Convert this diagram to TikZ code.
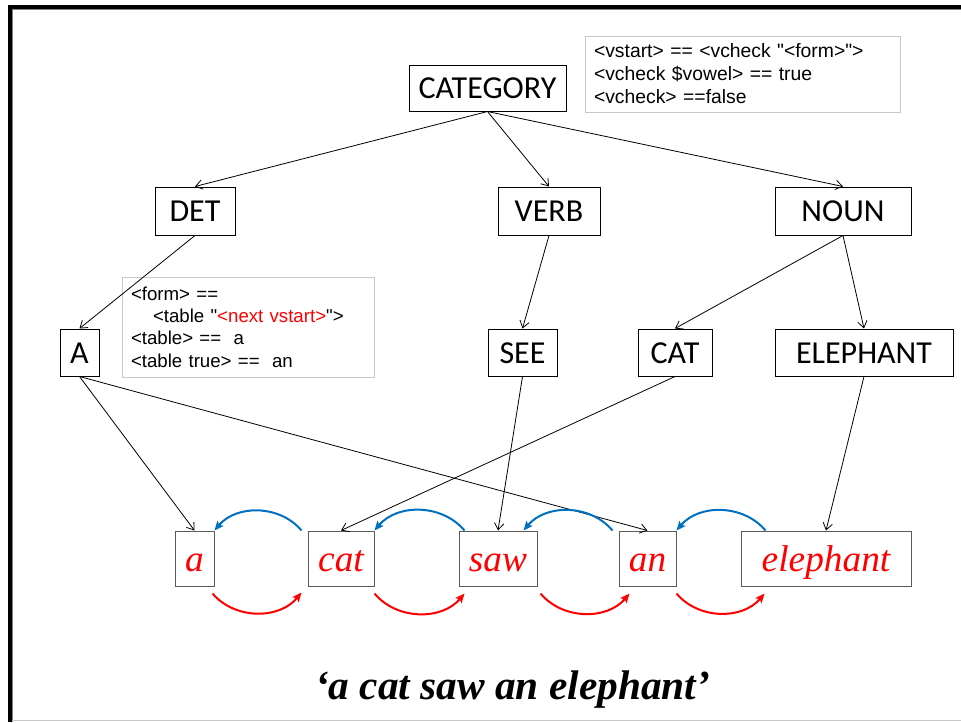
\documentclass[tikz,border=0pt]{standalone}
\usepackage{fontspec}
\setmainfont{Liberation Serif}
\newfontfamily\calibfont{Carlito}
\newfontfamily\arialfont{Liberation Sans}
\usetikzlibrary{arrows.meta,calc}
\definecolor{linkblue}{HTML}{0070C0}
\definecolor{linkred}{HTML}{FF0000}
\definecolor{notegray}{HTML}{C8C8C8}
\definecolor{wordgray}{HTML}{5A5A5A}

\begin{document}
\begin{tikzpicture}[x=0.75pt,y=-0.75pt,
  catbox/.style={draw=black, line width=0.75pt, inner sep=0pt,
    font=\calibfont\fontsize{24}{28}\selectfont,
    text height=16pt, text depth=0pt},
  wordbox/.style={draw=wordgray, line width=0.75pt, inner sep=0pt,
    minimum height=41.25pt, text=linkred,
    font=\fontsize{28}{32}\selectfont\itshape,
    text height=20pt, text depth=0pt},
  notebox/.style={draw=notegray, line width=0.75pt, inner xsep=6.75pt,
    inner ysep=0pt, align=left},
  tree/.style={line width=0.6pt, -{Straight Barb[length=5pt,width=7pt]}},
  nextlink/.style={linkred, line width=1.5pt, -{Stealth[length=7pt,width=6pt,inset=1.5pt]}},
  backlink/.style={linkblue, line width=1.5pt, -{Stealth[length=7pt,width=6pt,inset=1.5pt]}}
]
\useasboundingbox (0,0) rectangle (961,722);

% slide frame
\fill[black] (8,5) rectangle (961,9);
\fill[black] (8,5) rectangle (12,722);
\draw[gray, line width=0.75pt] (12,9.5) -- (961,9.5);
\draw[gray, line width=0.75pt] (12.5,9.5) -- (12.5,722);
\draw[notegray, line width=0.75pt] (12,720.5) -- (961,720.5);

% category tree
\node[catbox, minimum width=117.75pt, minimum height=34.5pt] (CATEGORY) at (487.5,88) {CATEGORY};
\node[catbox, minimum width=60pt, minimum height=36pt] (DET) at (195,211) {DET};
\node[catbox, minimum width=76.5pt, minimum height=36pt] (VERB) at (549,211) {VERB};
\node[catbox, minimum width=102pt, minimum height=36pt] (NOUN) at (843,211) {NOUN};
\node[catbox, minimum width=29.25pt, minimum height=35.25pt] (A) at (79.5,352.5) {A};
\node[catbox, minimum width=51.75pt, minimum height=35.25pt] (SEE) at (522.5,352.5) {SEE};
\node[catbox, minimum width=55.5pt, minimum height=35.25pt] (CAT) at (675,352.5) {CAT};
\node[catbox, minimum width=133.5pt, minimum height=35.25pt] (ELEPHANT) at (864,352.5) {ELEPHANT};

% rule notes
\node[notebox, minimum width=236.25pt, minimum height=57pt, text width=222.75pt,
  font=\arialfont\fontsize{14.5}{17.3}\selectfont] (vnote) at (742.5,74)
  {<vstart> == <vcheck "<form>">\\
   <vcheck \$vowel> == true\\
   <vcheck> ==false};
\node[notebox, minimum width=189pt, minimum height=75pt, text width=175.5pt,
  font=\arialfont\fontsize{14}{16.8}\selectfont] (fnote) at (248,327)
  {<form> ==\\
   \hspace*{16.5pt}<table "\textcolor{linkred}{<next vstart>}">\\
   <table> ==\ \ a\\
   <table true> ==\ \ an};

% sentence words
\node[wordbox, minimum width=29.25pt] (a) at (194.5,558.5) {a};
\node[wordbox, minimum width=49.5pt] (cat) at (341,558.5) {cat};
\node[wordbox, minimum width=58.5pt] (saw) at (498,558.5) {saw};
\node[wordbox, minimum width=42.75pt] (an) at (647.5,558.5) {an};
\node[wordbox, minimum width=127.5pt] (elephant) at (826,558.5) {elephant};

% tree connectors
\draw[tree] (CATEGORY.south) -- (DET.north);
\draw[tree] (CATEGORY.south) -- (VERB.north);
\draw[tree] (CATEGORY.south) -- (NOUN.north);
\draw[tree] (DET.south) -- (A.north);
\draw[tree] (VERB.south) -- (SEE.north);
\draw[tree] (NOUN.south) -- (CAT.north);
\draw[tree] (NOUN.south) -- (ELEPHANT.north);
\draw[tree] (A.south) -- (a.north);
\draw[tree] (A.south) -- (an.north);
\draw[tree] (SEE.south) -- (saw.north);
\draw[tree] (CAT.south) -- (cat.north);
\draw[tree] (ELEPHANT.south) -- (elephant.north);

% links back to the previous word
\draw[backlink] ($(cat.north west)+(-6,0)$) to[bend right=50] (a.north east);
\draw[backlink] ($(saw.north west)+(6,0)$) to[bend right=50] (cat.north east);
\draw[backlink] ($(an.north west)+(-6,0)$) to[bend right=50] ($(saw.north east)+(-14,0)$);
\draw[backlink] ($(elephant.north west)+(25,0)$) to[bend right=50] (an.north east);

% links forward to the next word
\draw[nextlink] ($(a.south east)+(-2,7)$) to[bend right=50] ($(cat.south west)+(-6,6)$);
\draw[nextlink] ($(cat.south east)+(0,7)$) to[bend right=50] ($(saw.south west)+(6,7)$);
\draw[nextlink] ($(saw.south east)+(3,7)$) to[bend right=50] ($(an.south west)+(11,7)$);
\draw[nextlink] ($(an.south east)+(0,7)$) to[bend right=50] ($(elephant.south west)+(24,7)$);

% caption
\node[anchor=base, font=\fontsize{31}{36}\selectfont\bfseries\itshape] (caption) at (512.5,699)
  {‘a cat saw an elephant’};
\end{tikzpicture}
\end{document}
